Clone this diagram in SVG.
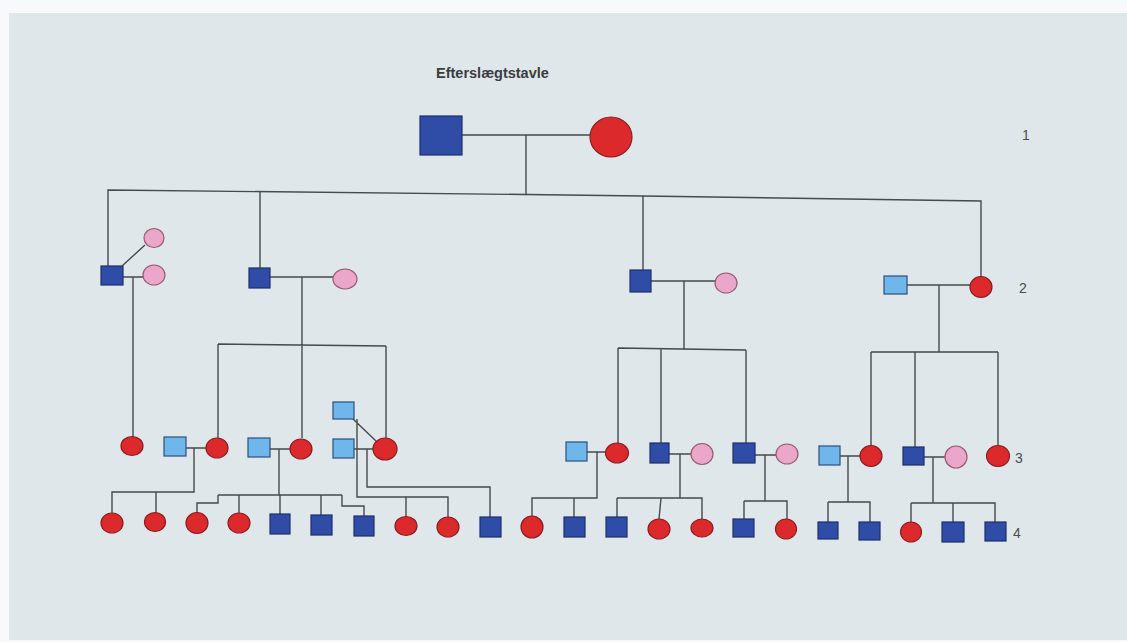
<svg xmlns="http://www.w3.org/2000/svg" width="1127" height="642" viewBox="0 0 1127 642">
<style>
.ln{fill:none;stroke:#474a4c;stroke-width:1.4}
.db{fill:#2f4ca6;stroke:#1f2f6a;stroke-width:1.2}
.lb{fill:#6fb6ea;stroke:#2c4f7e;stroke-width:1.2}
.rd{fill:#dc2a2c;stroke:#8e1c1e;stroke-width:1.2}
.pk{fill:#eaa7c9;stroke:#975a72;stroke-width:1.2}
.num{font-family:"Liberation Sans",Arial,sans-serif;font-size:14px;fill:#4a4d50}
.title{font-family:"Liberation Sans",Arial,sans-serif;font-size:14.5px;font-weight:bold;fill:#3a3c3e}
</style>
<rect width="1127" height="642" fill="#f7f9fa"/>
<rect x="9" y="13" width="1118" height="627" fill="#dfe7eb"/>
<text class="title" x="436" y="78">Efterslægtstavle</text>
<text class="num" x="1022" y="140">1</text>
<text class="num" x="1019" y="293">2</text>
<text class="num" x="1015" y="463">3</text>
<text class="num" x="1013" y="538">4</text>

<g id="connectors">
<path class="ln" d="M462 135H590M526 135V194.5"/>
<path class="ln" d="M108 266V190L526 194.5L643 196L981 201V277"/>
<path class="ln" d="M260 192V268M643 196V270"/>
<path class="ln" d="M122 266L145 245M123 277H143M133 277V437"/>
<path class="ln" d="M270 277H333M302 277V438M218 344L386 346M218 344V438M386 346V438"/>
<path class="ln" d="M651 281H715M684 281V349M618 348L746 350M618 348V443M661 348.5V443M746 350V443"/>
<path class="ln" d="M907 285H970M939 285V352M871 352H998M871 352V446M915 352V447M998 352V446"/>
<path class="ln" d="M186 448H206M194 448V492H112V513M156 492V513"/>
<path class="ln" d="M270 449H290M279 449V495M218 495H342M218 495V503H197V513M239 495V513M280 495V514M321 495V515M342 495V506H364V516"/>
<path class="ln" d="M353 419L376 441M357 419V497H448V517M406 497V516"/>
<path class="ln" d="M354 449H373M367 449V487H490V517"/>
<path class="ln" d="M587 452H606M597 452V498H532V516M574 498V517"/>
<path class="ln" d="M669 454H691M680 454V498M617 498H702V519M617 498V517M661 498L659 519"/>
<path class="ln" d="M755 455H776M765 455V501M744 501H787V519M744 501V519"/>
<path class="ln" d="M840 456H860M848 456V502M828 502H870V522M828 502V522"/>
<path class="ln" d="M924 457H945M933 457V503M911 503H995V522M911 503V522M953 503V522"/>
</g>

<g id="g1-father"><rect class="db" x="420" y="116" width="42" height="39"/></g>
<g id="g1-mother"><ellipse class="rd" cx="611" cy="137" rx="21" ry="20"/></g>

<g id="g2-son1"><rect class="db" x="101" y="266" width="22" height="19"/></g>
<g id="g2-son1-wife1"><ellipse class="pk" cx="154" cy="238" rx="10" ry="9.5"/></g>
<g id="g2-son1-wife2"><ellipse class="pk" cx="154" cy="275" rx="11" ry="10"/></g>
<g id="g2-son2"><rect class="db" x="249" y="268" width="21" height="20"/></g>
<g id="g2-son2-wife"><ellipse class="pk" cx="345" cy="279" rx="12" ry="10"/></g>
<g id="g2-son3"><rect class="db" x="630" y="270" width="21" height="22"/></g>
<g id="g2-son3-wife"><ellipse class="pk" cx="726" cy="283" rx="11" ry="10"/></g>
<g id="g2-daughter-husband"><rect class="lb" x="884" y="276" width="23" height="18"/></g>
<g id="g2-daughter"><ellipse class="rd" cx="981" cy="287" rx="11" ry="10.5"/></g>

<g id="g3-a"><ellipse class="rd" cx="132" cy="446" rx="11" ry="9.5"/></g>
<g id="g3-b-husband"><rect class="lb" x="164" y="437" width="22" height="19"/></g>
<g id="g3-b"><ellipse class="rd" cx="217" cy="448" rx="11" ry="10"/></g>
<g id="g3-c-husband"><rect class="lb" x="248" y="438" width="22" height="19"/></g>
<g id="g3-c"><ellipse class="rd" cx="301" cy="449" rx="11" ry="10"/></g>
<g id="g3-d-husband1"><rect class="lb" x="333" y="402" width="21" height="17"/></g>
<g id="g3-d-husband2"><rect class="lb" x="333" y="439" width="21" height="19"/></g>
<g id="g3-d"><ellipse class="rd" cx="385" cy="449" rx="12" ry="11"/></g>
<g id="g3-e-husband"><rect class="lb" x="566" y="442" width="21" height="19"/></g>
<g id="g3-e"><ellipse class="rd" cx="617" cy="453" rx="11.5" ry="10"/></g>
<g id="g3-f"><rect class="db" x="650" y="443" width="19" height="20"/></g>
<g id="g3-f-wife"><ellipse class="pk" cx="702" cy="454" rx="11" ry="10.5"/></g>
<g id="g3-g"><rect class="db" x="733" y="443" width="22" height="20"/></g>
<g id="g3-g-wife"><ellipse class="pk" cx="787" cy="454" rx="11" ry="10"/></g>
<g id="g3-h-husband"><rect class="lb" x="819" y="446" width="21" height="19"/></g>
<g id="g3-h"><ellipse class="rd" cx="871" cy="456" rx="11" ry="10.5"/></g>
<g id="g3-i"><rect class="db" x="903" y="447" width="21" height="18"/></g>
<g id="g3-i-wife"><ellipse class="pk" cx="956" cy="457" rx="11" ry="11"/></g>
<g id="g3-j"><ellipse class="rd" cx="998" cy="456" rx="11.5" ry="10.5"/></g>

<g id="g4-1"><ellipse class="rd" cx="112" cy="523" rx="11" ry="10"/></g>
<g id="g4-2"><ellipse class="rd" cx="155" cy="522" rx="10.5" ry="9.5"/></g>
<g id="g4-3"><ellipse class="rd" cx="197" cy="523" rx="11" ry="10.5"/></g>
<g id="g4-4"><ellipse class="rd" cx="239" cy="523" rx="11" ry="10"/></g>
<g id="g4-5"><rect class="db" x="270" y="514" width="20" height="20"/></g>
<g id="g4-6"><rect class="db" x="311" y="515" width="21" height="20"/></g>
<g id="g4-7"><rect class="db" x="354" y="516" width="20" height="20"/></g>
<g id="g4-8"><ellipse class="rd" cx="406" cy="526" rx="11" ry="9.5"/></g>
<g id="g4-9"><ellipse class="rd" cx="448" cy="527" rx="11" ry="10"/></g>
<g id="g4-10"><rect class="db" x="480" y="517" width="21" height="20"/></g>
<g id="g4-11"><ellipse class="rd" cx="532" cy="527" rx="11" ry="11"/></g>
<g id="g4-12"><rect class="db" x="564" y="517" width="21" height="20"/></g>
<g id="g4-13"><rect class="db" x="606" y="517" width="21" height="20"/></g>
<g id="g4-14"><ellipse class="rd" cx="659" cy="529" rx="11" ry="10"/></g>
<g id="g4-15"><ellipse class="rd" cx="702" cy="528" rx="11" ry="9"/></g>
<g id="g4-16"><rect class="db" x="733" y="519" width="21" height="18"/></g>
<g id="g4-17"><ellipse class="rd" cx="786" cy="529" rx="10.5" ry="10"/></g>
<g id="g4-18"><rect class="db" x="818" y="522" width="20" height="17"/></g>
<g id="g4-19"><rect class="db" x="859" y="522" width="21" height="18"/></g>
<g id="g4-20"><ellipse class="rd" cx="911" cy="532" rx="10.5" ry="10"/></g>
<g id="g4-21"><rect class="db" x="942" y="522" width="22" height="20"/></g>
<g id="g4-22"><rect class="db" x="985" y="522" width="21" height="19"/></g>
</svg>
